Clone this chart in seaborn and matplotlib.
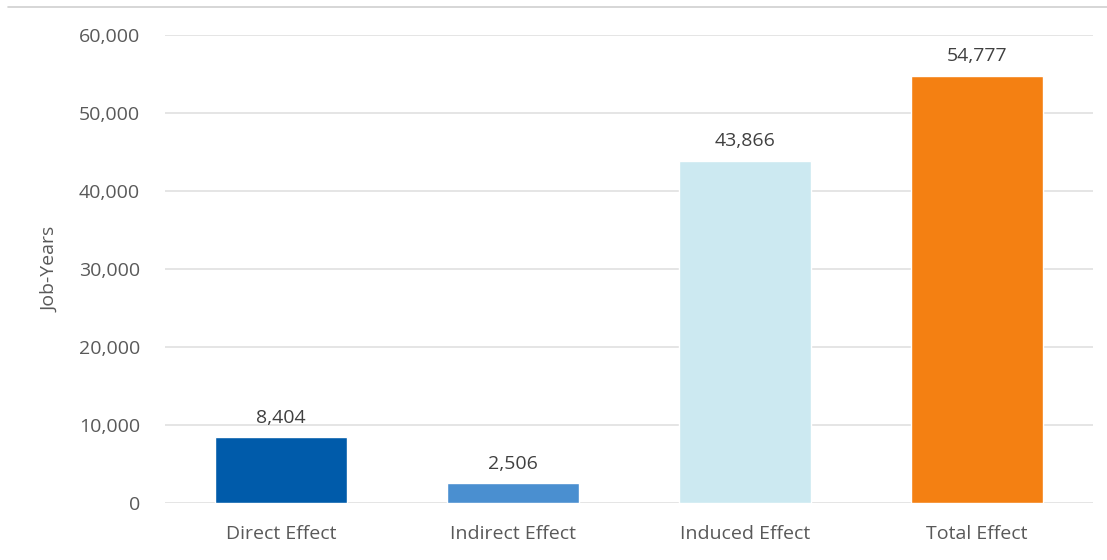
import matplotlib
matplotlib.use('Agg')
import matplotlib.pyplot as plt
import seaborn as sns
import pandas as pd
from matplotlib.lines import Line2D
from matplotlib.ticker import FuncFormatter

categories = ['Direct Effect', 'Indirect Effect', 'Induced Effect', 'Total Effect']
job_years = [8404, 2506, 43866, 54777]
bar_colors = ['#005BAA', '#4A8FD0', '#CCE9F1', '#F48012']

sns.set_theme(style='white')
plt.rcParams['font.family'] = ['Open Sans', 'DejaVu Sans']
text_color = '#595959'

df = pd.DataFrame({'Effect': categories, 'Job-Years': job_years})

fig = plt.figure(figsize=(11.07, 5.6), dpi=100)
ax = fig.add_axes([0.149, 0.1018, 0.838, 0.8357])
sns.barplot(data=df, x='Effect', y='Job-Years', hue='Effect', palette=bar_colors,
            width=0.57, legend=False, ax=ax, saturation=1)

ax.set_ylim(0, 60000)
ax.set_xlim(-0.5, 3.5)
ax.set_yticks(range(0, 60001, 10000))
ax.yaxis.set_major_formatter(FuncFormatter(lambda v, p: f'{int(v):,}'))
ax.grid(axis='y', color='#E0E0E0', linewidth=1.2)
ax.set_axisbelow(True)
for s in ax.spines.values():
    s.set_visible(False)
ax.tick_params(axis='both', length=0, labelsize=14, colors=text_color)
ax.tick_params(axis='y', pad=18)
ax.tick_params(axis='x', pad=16)
ax.set_xlabel('')
ax.set_ylabel('Job-Years', fontsize=14, color=text_color, labelpad=14)

for i, v in enumerate(job_years):
    ax.text(i, v + 1400, f'{v:,}', ha='center', va='bottom', fontsize=14, color='#404040')

fig.add_artist(Line2D([8 / 1107, 1.0], [1 - 7 / 560, 1 - 7 / 560], color='#D0D0D0', linewidth=1.2))

fig.savefig('out.png', dpi=100)
